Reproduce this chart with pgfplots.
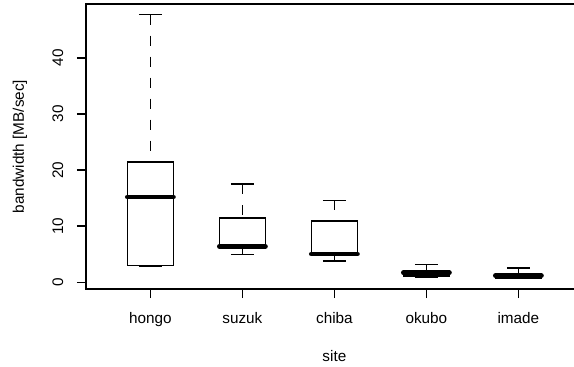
\documentclass[border=0pt]{standalone}
\usepackage{fontspec}
\setmainfont{Liberation Sans}
\usepackage{pgfplots}
\pgfplotsset{compat=1.18}
\usepgfplotslibrary{statistics}
\newcommand\labfont{\fontsize{15.3}{18}\selectfont}
\begin{document}
\begin{tikzpicture}
\useasboundingbox (-86pt,-78pt) rectangle (488pt,289pt);
\clip (-86pt,-78pt) rectangle (488pt,289pt);
\begin{axis}[
  at={(0pt,0pt)}, anchor=south west,
  scale only axis, width=496.8pt, height=285pt,
  xmin=0.3, xmax=5.7, ymin=-1.18, ymax=49.58,
  axis line style={line width=1.6pt},
  xtick={1,2,3,4,5},
  xticklabels={hongo,suzuk,chiba,okubo,imade},
  ytick={0,10,20,30,40},
  yticklabels={0,10,20,30,40},
  tick align=outside, tick pos=left,
  major tick length=9pt,
  every tick/.style={black, line width=1.6pt},
  tick label style={font=\labfont, inner sep=0pt},
  xticklabel style={anchor=base},
  yticklabel style={rotate=90, anchor=south},
  xticklabel shift=25pt,
  yticklabel shift=13.5pt,
  every axis x label/.style={at={(axis description cs:0.5,-0.2544)}, anchor=base, font=\labfont, inner sep=0pt},
  every axis y label/.style={at={(axis description cs:-0.1248,0.5)}, rotate=90, anchor=base, font=\labfont, inner sep=0pt},
  xlabel={site},
  ylabel={bandwidth [MB/sec]},
  boxplot/draw direction=y,
  boxplot/box extend=0.5,
  boxplot/whisker extend=0.25,
  boxplot/draw/median/.code={
    \draw[line width=4.8pt, line cap=round]
      (boxplot box cs:\pgfplotsboxplotvalue{median},0) --
      (boxplot box cs:\pgfplotsboxplotvalue{median},1);
  },
  boxplot/draw/upper whisker/.code={
    \draw[line width=1.6pt, dash pattern=on 10pt off 11pt]
      (boxplot box cs:\pgfplotsboxplotvalue{upper whisker},0.5) --
      (boxplot box cs:\pgfplotsboxplotvalue{upper quartile},0.5);
    \draw[line width=1.6pt, solid]
      (boxplot whisker cs:\pgfplotsboxplotvalue{upper whisker},0) --
      (boxplot whisker cs:\pgfplotsboxplotvalue{upper whisker},1);
  },
  boxplot/draw/lower whisker/.code={
    \draw[line width=1.6pt, dash pattern=on 10pt off 11pt]
      (boxplot box cs:\pgfplotsboxplotvalue{lower whisker},0.5) --
      (boxplot box cs:\pgfplotsboxplotvalue{lower quartile},0.5);
    \draw[line width=1.6pt, solid]
      (boxplot whisker cs:\pgfplotsboxplotvalue{lower whisker},0) --
      (boxplot whisker cs:\pgfplotsboxplotvalue{lower whisker},1);
  },
  boxplot/draw/box/.code={
    \draw[line width=1.6pt, solid]
      (boxplot box cs:\pgfplotsboxplotvalue{lower quartile},0) rectangle
      (boxplot box cs:\pgfplotsboxplotvalue{upper quartile},1);
  },
]
\addplot[black, boxplot prepared={draw position=1,
  lower whisker=2.8, lower quartile=3.0, median=15.2,
  upper quartile=21.4, upper whisker=47.7}] coordinates {};
\addplot[black, boxplot prepared={draw position=2,
  lower whisker=5.0, lower quartile=6.2, median=6.4,
  upper quartile=11.5, upper whisker=17.5}] coordinates {};
\addplot[black, boxplot prepared={draw position=3,
  lower whisker=3.8, lower quartile=4.9, median=5.05,
  upper quartile=10.9, upper whisker=14.6}] coordinates {};
\addplot[black, boxplot prepared={draw position=4,
  lower whisker=0.9, lower quartile=1.1, median=1.7,
  upper quartile=2.1, upper whisker=3.2}] coordinates {};
\addplot[black, boxplot prepared={draw position=5,
  lower whisker=0.7, lower quartile=0.8, median=1.2,
  upper quartile=1.6, upper whisker=2.6}] coordinates {};
\end{axis}
\end{tikzpicture}
\end{document}
